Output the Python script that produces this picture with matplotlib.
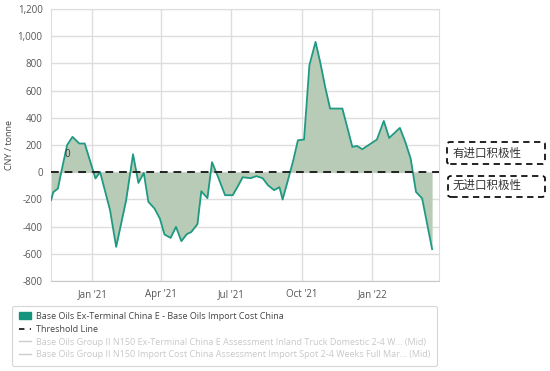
import matplotlib
matplotlib.use("Agg")
import matplotlib.pyplot as plt
import matplotlib.ticker as mticker
from matplotlib.lines import Line2D
from matplotlib.patches import Patch, FancyBboxPatch
import pandas as pd

plt.rcParams['font.family'] = ['Open Sans', 'Noto Sans CJK SC', 'DejaVu Sans']

dates = [
    "2020-11-08", "2020-11-11", "2020-11-17", "2020-11-21", "2020-11-29", "2020-12-06",
    "2020-12-15", "2020-12-22", "2021-01-05", "2021-01-11", "2021-01-24", "2021-02-01",
    "2021-02-14", "2021-02-23", "2021-03-02", "2021-03-09", "2021-03-15", "2021-03-23",
    "2021-03-30", "2021-04-05", "2021-04-13", "2021-04-20", "2021-04-27", "2021-05-04",
    "2021-05-10", "2021-05-18", "2021-05-23", "2021-05-31", "2021-06-06", "2021-06-14",
    "2021-06-23", "2021-07-03", "2021-07-09", "2021-07-16", "2021-07-26", "2021-08-03",
    "2021-08-11", "2021-08-18", "2021-08-26", "2021-09-02", "2021-09-06", "2021-09-13",
    "2021-09-20", "2021-09-26", "2021-10-04", "2021-10-11", "2021-10-19", "2021-10-25",
    "2021-11-01", "2021-11-07", "2021-11-23", "2021-12-06", "2021-12-12", "2021-12-19",
    "2022-01-07", "2022-01-16", "2022-01-23", "2022-02-06", "2022-02-13", "2022-02-20",
    "2022-02-27", "2022-03-07", "2022-03-20",
]
spread = [
    -206, -147, -120, -10, 199, 260,
    211, 211, -46, 2, -279, -549,
    -206, 132, -79, -5, -218, -267,
    -341, -458, -483, -402, -507, -456,
    -439, -382, -140, -191, 74, -37,
    -169, -169, -110, -37, -44, -29,
    -44, -96, -132, -110, -201, -59,
    88, 235, 240, 787, 958, 811,
    615, 468, 468, 186, 193, 169,
    240, 377, 252, 326, 223, 101,
    -145, -193, -566,
]
threshold = 0
tick_dates = ["2021-01-01", "2021-04-01", "2021-07-01", "2021-10-01", "2022-01-01"]
tick_labels = ["Jan '21", "Apr '21", "Jul '21", "Oct '21", "Jan '22"]
legend_labels = [
    "Base Oils Ex-Terminal China E - Base Oils Import Cost China",
    "Threshold Line",
    "Base Oils Group II N150 Ex-Terminal China E Assessment Inland Truck Domestic 2-4 W... (Mid)",
    "Base Oils Group II N150 Import Cost China Assessment Import Spot 2-4 Weeks Full Mar... (Mid)",
]
box_labels = ["有进口积极性", "无进口积极性"]

x = pd.to_datetime(dates)

fig = plt.figure(figsize=(5.5, 3.71), dpi=100)
ax = fig.add_axes([0.0927, 0.2426, 0.7055, 0.7331])

line_color = "#1f9a82"
fill_color = "#b7cbb6"
ax.fill_between(x, spread, threshold, color=fill_color, linewidth=0, zorder=2)
ax.plot(x, spread, color=line_color, linewidth=1.3, zorder=3)
ax.axhline(threshold, color="#222222", linewidth=1.4, linestyle=(0, (4, 3)), zorder=4)
ax.text(pd.Timestamp("2020-11-25"), 110, "0", fontsize=7, color="#333333", zorder=5)

ax.set_xlim(pd.Timestamp("2020-11-08"), pd.Timestamp("2022-03-29"))
ax.set_ylim(-800, 1200)
ax.set_yticks(range(-800, 1201, 200))
ax.yaxis.set_major_formatter(mticker.FuncFormatter(lambda v, p: f"{int(v):,}"))
ax.set_xticks(pd.to_datetime(tick_dates))
ax.set_xticklabels(tick_labels)
ax.grid(True, color="#dddddd", linewidth=1)
ax.set_axisbelow(True)
ax.tick_params(axis="both", length=0, labelsize=7, colors="#555555", pad=6)
for side in ["top", "right", "left"]:
    ax.spines[side].set_color("#dddddd")
ax.spines["bottom"].set_color("#c8c8c8")
ax.set_ylabel("CNY / tonne", fontsize=6.5, color="#444444")
ax.yaxis.set_label_coords(-0.095, 0.5)

handles = [
    Patch(facecolor="#14937d", edgecolor="#14937d"),
    Line2D([], [], color="#222222", linestyle=(0, (3, 3)), linewidth=1.3),
    Line2D([], [], color="#cccccc", linewidth=1),
    Line2D([], [], color="#cccccc", linewidth=1),
]
leg = fig.legend(handles, legend_labels, loc="upper left", bbox_to_anchor=(0.0145, 0.188),
                 fontsize=6.5, frameon=True, fancybox=True, edgecolor="#cccccc",
                 handlelength=1.3, handleheight=0.8, handletextpad=0.6, labelspacing=0.42,
                 borderpad=0.7)
leg.get_frame().set_linewidth(0.8)
for t, c in zip(leg.get_texts(), ["#444444", "#444444", "#c8c8c8", "#c8c8c8"]):
    t.set_color(c)

W, H = 550.0, 371.0
boxes = [(447, 142, 545, 164, 153.5), (448, 176, 545, 197, 185.5)]
for (x0, y0, x1, y1, yc), lab in zip(boxes, box_labels):
    p = FancyBboxPatch((x0 / W, 1 - y1 / H), (x1 - x0) / W, (y1 - y0) / H,
                       boxstyle="round,pad=0,rounding_size=0.006", transform=fig.transFigure,
                       facecolor="none", edgecolor="#111111", linewidth=1.3,
                       linestyle=(0, (3.5, 2.5)))
    fig.patches.append(p)
    fig.text(453 / W, 1 - yc / H, lab, fontsize=8.3, color="#333333", va="center", ha="left",
             family=["Noto Sans CJK SC", "DejaVu Sans"])

fig.savefig("out.png", dpi=100)
